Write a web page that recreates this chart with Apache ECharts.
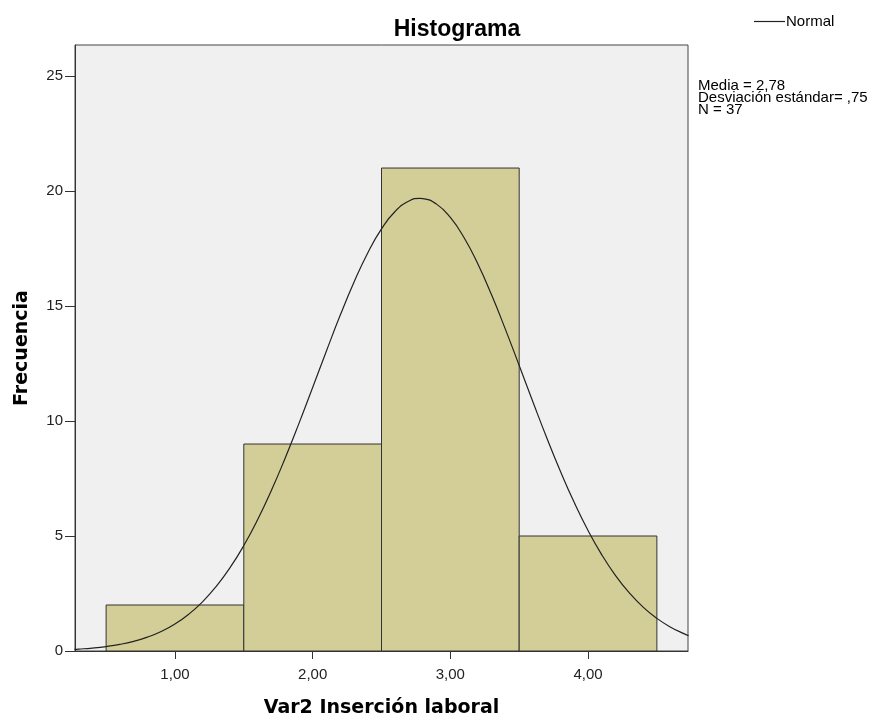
<!DOCTYPE html>
<html>
<head>
<meta charset="utf-8">
<script src="https://cdn.jsdelivr.net/npm/echarts@6/dist/echarts.min.js"></script>
<style>
html,body{margin:0;padding:0;background:#fff;}
#chart{width:885px;height:718px;}
</style>
</head>
<body>
<div id="chart"></div>
<script>
// Histogram bins
const binStart = [0.5, 1.5, 2.5, 3.5];
const binEnd   = [1.5, 2.5, 3.5, 4.5];
const freq     = [2, 9, 21, 5];
// Normal curve points
const curveX = [0.27,0.3,0.4,0.5,0.6,0.7,0.8,0.9,1.0,1.1,1.2,1.3,1.4,1.5,1.6,1.7,1.8,1.9,2.0,2.1,2.2,2.3,2.4,2.5,2.6,2.7,2.78,2.8,2.9,3.0,3.1,3.2,3.3,3.4,3.5,3.6,3.7,3.8,3.9,4.0,4.1,4.2,4.3,4.4,4.5,4.6,4.7,4.73];
const curveY = [0.073,0.083,0.128,0.194,0.288,0.421,0.604,0.850,1.177,1.601,2.139,2.809,3.622,4.587,5.708,6.979,8.381,9.888,11.460,13.048,14.595,16.036,17.310,18.356,19.122,19.569,19.681,19.674,19.431,18.852,17.969,16.825,15.476,13.985,12.414,10.826,9.275,7.806,6.453,5.241,4.182,3.278,2.524,1.909,1.419,1.036,0.743,0.670];
const xTicks = [1, 2, 3, 4];
const yTicks = [0, 5, 10, 15, 20, 25];
const statsLines = ['Media = 2,78', 'Desviación estándar= ,75', 'N = 37'];

const FONT = 'Liberation Sans, Arial, sans-serif';
const NAMEFONT = 'DejaVu Sans, Verdana, sans-serif';
const chart = echarts.init(document.getElementById('chart'), null, {renderer:'canvas'});

const barData = binStart.map((s, i) => [s, binEnd[i], freq[i]]);
const curveData = curveX.map((x, i) => [x, curveY[i]]);

chart.setOption({
  animation: false,
  backgroundColor: '#ffffff',
  textStyle: {fontFamily: FONT},
  title: {
    text: 'Histograma',
    left: 452, top: 13, textAlign: 'center',
    textStyle: {fontFamily: FONT, fontSize: 23, fontWeight: 'bold', color: '#000'}
  },
  legend: {
    data: [{name: 'Normal', icon: 'rect'}],
    left: 754, top: 14, padding: 0,
    itemWidth: 31, itemHeight: 1.2, itemGap: 4,
    itemStyle: {color: '#222'},
    textStyle: {fontFamily: FONT, fontSize: 15, color: '#000', padding: [0,0,0,-4]},
  },
  graphic: [{
    type: 'text', left: 698, top: 78,
    style: {text: statsLines.join('\n'), font: '15px ' + FONT, fill: '#000', lineHeight: 12}
  }],
  grid: {
    left: 75, right: 197, top: 45, bottom: 67,
    outerBoundsMode: 'none', containLabel: false,
    show: true, backgroundColor: '#F0F0F0', borderColor: '#444', borderWidth: 1
  },
  xAxis: {
    type: 'value', min: 0.274, max: 4.726,
    name: 'Var2 Inserción laboral', nameLocation: 'middle', nameGap: 48,
    nameTextStyle: {fontFamily: NAMEFONT, fontSize: 19, fontWeight: 'bold', color: '#000'},
    axisLine: {show: true, lineStyle: {color: '#333', width: 1}},
    axisTick: {show: true, length: 8, lineStyle: {color: '#333'}, customValues: xTicks},
    axisLabel: {customValues: xTicks, fontFamily: FONT, fontSize: 15, color: '#222', margin: 16,
      formatter: v => v.toFixed(2).replace('.', ',')},
    splitLine: {show: false}
  },
  yAxis: {
    type: 'value', min: 0, max: 26.35,
    name: 'Frecuencia', nameLocation: 'middle', nameRotate: 90, nameGap: 43,
    nameTextStyle: {fontFamily: NAMEFONT, fontSize: 19, fontWeight: 'bold', color: '#000'},
    axisLine: {show: true, lineStyle: {color: '#333', width: 1}},
    axisTick: {show: true, length: 10, lineStyle: {color: '#333'}, customValues: yTicks},
    axisLabel: {customValues: yTicks, fontFamily: FONT, fontSize: 15, color: '#222', margin: 12},
    splitLine: {show: false}
  },
  series: [{
    type: 'custom',
    name: 'Frecuencia',
    data: barData,
    encode: {x: [0, 1], y: 2},
    renderItem: function (params, api) {
      const p0 = api.coord([api.value(0), api.value(2)]);
      const p1 = api.coord([api.value(1), 0]);
      return {
        type: 'rect',
        shape: {x: p0[0], y: p0[1], width: p1[0] - p0[0], height: p1[1] - p0[1]},
        style: {fill: '#D3CE97', stroke: '#333', lineWidth: 1}
      };
    },
    z: 2
  }, {
    type: 'line',
    name: 'Normal',
    data: curveData,
    smooth: 0.5,
    symbol: 'none',
    lineStyle: {color: '#222', width: 1.2},
    itemStyle: {color: '#222'},
    z: 3
  }]
});
</script>
</body>
</html>
